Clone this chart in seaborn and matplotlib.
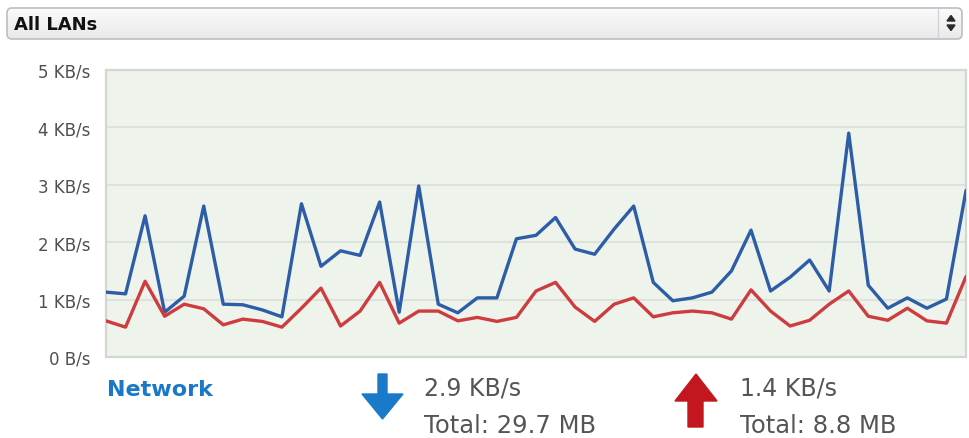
import numpy as np
import pandas as pd
import matplotlib
matplotlib.use("Agg")
import matplotlib.pyplot as plt
from matplotlib.patches import FancyBboxPatch, Polygon
import seaborn as sns

# Network throughput samples (KB/s), oldest to newest
download = [1.13, 1.10, 2.46, 0.78, 1.06, 2.63, 0.92, 0.91, 0.82, 0.70,
            2.67, 1.58, 1.85, 1.77, 2.70, 0.78, 2.98, 0.92, 0.77, 1.03,
            1.03, 2.06, 2.12, 2.43, 1.88, 1.79, 2.23, 2.63, 1.30, 0.98,
            1.03, 1.13, 1.50, 2.21, 1.15, 1.39, 1.69, 1.15, 3.90, 1.25,
            0.85, 1.03, 0.85, 1.01, 2.9]
upload = [0.63, 0.52, 1.32, 0.71, 0.92, 0.84, 0.56, 0.66, 0.62, 0.52,
          0.85, 1.20, 0.54, 0.80, 1.30, 0.59, 0.80, 0.80, 0.63, 0.69,
          0.62, 0.69, 1.15, 1.30, 0.87, 0.62, 0.92, 1.03, 0.70, 0.77,
          0.80, 0.77, 0.66, 1.17, 0.80, 0.54, 0.64, 0.92, 1.15, 0.71,
          0.64, 0.85, 0.63, 0.59, 1.4]
y_ticks = [0, 1, 2, 3, 4, 5]
y_tick_labels = ["0 B/s", "1 KB/s", "2 KB/s", "3 KB/s", "4 KB/s", "5 KB/s"]
interface_name = "All LANs"
section_title = "Network"
download_rate = "2.9 KB/s"
download_total = "Total: 29.7 MB"
upload_rate = "1.4 KB/s"
upload_total = "Total: 8.8 MB"

sns.set_style("white")
plt.rcParams["font.family"] = ["DejaVu Sans"]

W, H = 969, 439
fig = plt.figure(figsize=(W / 100, H / 100), dpi=100)
fig.patch.set_facecolor("white")

# ---- chart area ----
left, right, top, bottom = 106, 966, 71, 358
ax = fig.add_axes([left / W, (H - bottom) / H, (right - left) / W, (bottom - top) / H])
ax.set_facecolor("#eef3ec")

n = len(download)
df = pd.DataFrame({
    "sample": list(range(n)) * 2,
    "rate": download + upload,
    "direction": ["down"] * n + ["up"] * n,
})
sns.lineplot(data=df, x="sample", y="rate", hue="direction",
             palette={"down": "#2d5da6", "up": "#cd3c3e"},
             linewidth=2.4, legend=False, ax=ax, zorder=3)

ax.set_xlim(0, n - 1)
ax.set_ylim(0, 5)
ax.set_yticks(y_ticks)
ax.set_yticklabels(y_tick_labels)
ax.set_xticks([])
ax.set_xlabel("")
ax.set_ylabel("")
ax.tick_params(axis="y", length=0, pad=11, labelsize=12, labelcolor="#505050")
for yv in y_ticks[1:-1]:
    ax.axhline(yv, color="#dde2da", linewidth=1.5, zorder=1)
for side, sp in ax.spines.items():
    sp.set_visible(True)
    sp.set_color("#d3d7d1")
    sp.set_linewidth(1.6)

# ---- decorations drawn in pixel space ----
deco = fig.add_axes([0, 0, 1, 1], zorder=0)
deco.set_xlim(0, W)
deco.set_ylim(H, 0)
deco.axis("off")

# interface selector
box = FancyBboxPatch((7, 9), 955, 31, boxstyle="round,pad=0,rounding_size=5",
                     facecolor="none", edgecolor="#b9bec7", linewidth=1.2, zorder=3)
deco.add_patch(box)
grad = np.linspace(0, 1, 64).reshape(-1, 1)
img = deco.imshow(grad, extent=(7, 962, 40, 9), cmap=matplotlib.colors.LinearSegmentedColormap.from_list(
    "sel", ["#fbfbfb", "#e9e9e9"]), aspect="auto", zorder=2)
img.set_clip_path(box)
deco.plot([938, 938], [10, 39], color="#d0d3d8", linewidth=1, zorder=4)
deco.add_patch(Polygon([[947, 22], [955, 22], [951, 16.5]], closed=True, color="#2a2a2a", zorder=4))
deco.add_patch(Polygon([[947, 26], [955, 26], [951, 31.5]], closed=True, color="#2a2a2a", zorder=4))
deco.text(14, 24.5, interface_name, fontsize=13, fontweight="bold", color="#111111",
          va="center", ha="left", zorder=5)

# footer
deco.text(107, 390, section_title, fontsize=16, fontweight="bold", color="#1a78c8",
          va="center", ha="left")

# download arrow
deco.add_patch(Polygon([[378, 375], [387, 375], [387, 395], [403, 395], [382.5, 420],
                        [362, 395], [378, 395]], closed=True, color="#1a7ac9"))
deco.text(424, 389, download_rate, fontsize=17, color="#555555", va="center", ha="left")
deco.text(424, 426, download_total, fontsize=17.5, color="#555555", va="center", ha="left")

# upload arrow
deco.add_patch(Polygon([[688, 428], [703, 428], [703, 402], [717, 402], [696, 375],
                        [675, 402], [688, 402]], closed=True, color="#c4161e"))
deco.text(740, 389, upload_rate, fontsize=17, color="#555555", va="center", ha="left")
deco.text(740, 426, upload_total, fontsize=17.5, color="#555555", va="center", ha="left")

fig.savefig("out.png", dpi=100, facecolor="white")
